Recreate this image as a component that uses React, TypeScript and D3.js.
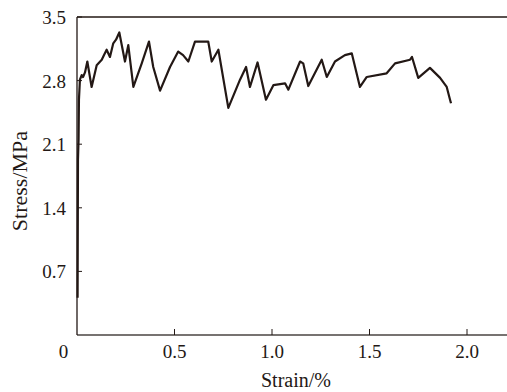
import React from "react";
import * as d3 from "d3";

const strain = [0.003, 0.005, 0.008, 0.010, 0.015, 0.024, 0.031, 0.041, 0.053, 0.075, 0.101, 0.127, 0.138, 0.152, 0.169, 0.186, 0.200, 0.217, 0.246, 0.263, 0.289, 0.332, 0.369, 0.391, 0.426, 0.477, 0.519, 0.544, 0.571, 0.605, 0.673, 0.691, 0.725, 0.776, 0.836, 0.867, 0.887, 0.926, 0.969, 1.007, 1.067, 1.084, 1.144, 1.160, 1.186, 1.255, 1.281, 1.323, 1.374, 1.409, 1.451, 1.486, 1.588, 1.631, 1.708, 1.718, 1.750, 1.810, 1.862, 1.896, 1.913, 1.918];
const stress = [0.41, 1.93, 2.15, 2.59, 2.81, 2.86, 2.84, 2.89, 3.01, 2.73, 2.97, 3.03, 3.08, 3.14, 3.06, 3.21, 3.25, 3.33, 3.01, 3.19, 2.73, 2.99, 3.23, 2.95, 2.69, 2.95, 3.12, 3.08, 3.01, 3.23, 3.23, 3.01, 3.14, 2.50, 2.81, 2.95, 2.73, 3.00, 2.59, 2.75, 2.77, 2.70, 3.01, 2.99, 2.74, 3.03, 2.84, 3.01, 3.08, 3.10, 2.73, 2.84, 2.88, 2.99, 3.03, 3.06, 2.83, 2.94, 2.83, 2.73, 2.59, 2.55];
const xTicks = [0.5, 1.0, 1.5, 2.0];
const yTicks = [0.7, 1.4, 2.1, 2.8, 3.5];

export default function App() {
  const W = 507, H = 392;
  const x = d3.scaleLinear().domain([0, 2.2]).range([77, 506]);
  const y = d3.scaleLinear().domain([0, 3.5]).range([335, 17]);
  const pts: [number, number][] = strain.map((s, i) => [s, stress[i]]);
  const line = d3.line<[number, number]>().x(d => x(d[0])).y(d => y(d[1]));
  const fmt = d3.format(".1f");
  const ts = { fontFamily: '"Times New Roman", Times, Tinos, "Liberation Serif", "Noto Serif", "DejaVu Serif", Georgia, serif' };
  return (
    <div style={{ position: "absolute", left: 0, top: 0 }}>
      <svg width={W} height={H} style={{ display: "block" }}>
        <rect width={W} height={H} fill="#fff" />
        <path d={line(pts) || ""} fill="none" stroke="#231815" strokeWidth={2.2} strokeLinejoin="round" />
        <line x1={x(0)} x2={W} y1={y(3.5)} y2={y(3.5)} stroke="#231815" strokeWidth={1.3} />
        <line x1={x(0)} x2={W} y1={y(0)} y2={y(0)} stroke="#4a4442" strokeWidth={1.5} />
        <line x1={x(0)} x2={x(0)} y1={y(3.5)} y2={y(0)} stroke="#231815" strokeWidth={1.3} />
        {xTicks.map(t => (
          <g key={"x" + t}>
            <line x1={x(t)} x2={x(t)} y1={y(0)} y2={y(0) - 6} stroke="#231815" strokeWidth={1} />
            <text x={x(t)} y={358} fontSize={19} style={ts} textAnchor="middle" fill="#231815">{fmt(t)}</text>
          </g>
        ))}
        <text x={63.5} y={358} fontSize={19} style={ts} textAnchor="middle" fill="#231815">0</text>
        {yTicks.map(t => (
          <g key={"y" + t}>
            <line x1={x(0)} x2={x(0) + 5} y1={y(t)} y2={y(t)} stroke="#231815" strokeWidth={1} />
            <text x={66} y={y(t) + 7} fontSize={19} style={ts} textAnchor="end" fill="#231815">{fmt(t)}</text>
          </g>
        ))}
        <text x={296} y={387} fontSize={20} style={ts} textAnchor="middle" fill="#231815">Strain/%</text>
        <text transform="translate(27,181) rotate(-90)" fontSize={22} style={ts} textAnchor="middle" fill="#231815">Stress/MPa</text>
      </svg>
    </div>
  );
}
